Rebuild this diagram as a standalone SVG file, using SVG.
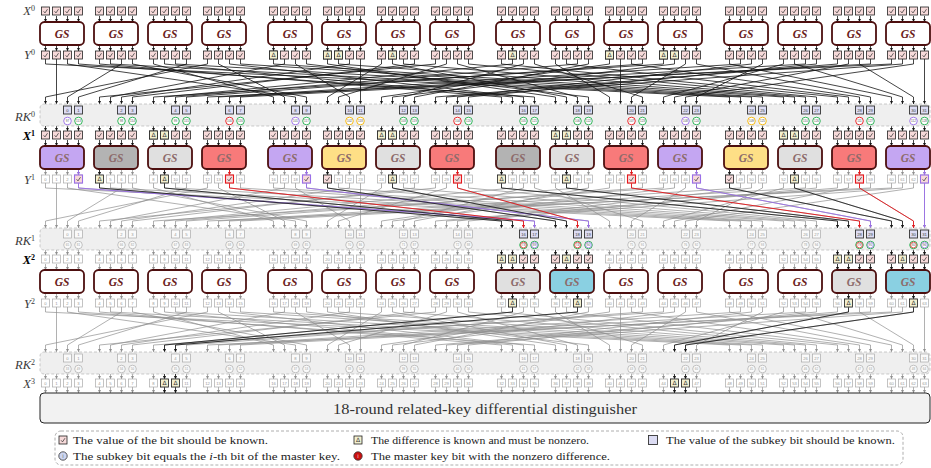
<svg xmlns="http://www.w3.org/2000/svg" xmlns:xlink="http://www.w3.org/1999/xlink" width="931" height="468" viewBox="0 0 931 468">
<style>
text{font-family:"Liberation Serif","DejaVu Serif",serif}
.lbl{font-style:italic;font-size:12.5px;fill:#3a3a3a;text-anchor:end}
.bd{font-weight:bold;fill:#000}
.sup{font-size:8px;font-style:normal}
.gs{font-style:italic;font-weight:bold;font-size:11.5px;text-anchor:middle;fill:#6a1c1c}
.f{fill:#8d6b6b}
.n{font-family:"Liberation Sans",sans-serif;font-size:4.2px;fill:#9a9a9a;text-anchor:middle}
.kn{font-family:"Liberation Sans",sans-serif;font-size:4.2px;fill:#444;text-anchor:middle}
.cn{font-family:"Liberation Sans",sans-serif;font-size:3px;fill:#555;text-anchor:middle}
.cng{font-family:"Liberation Sans",sans-serif;font-size:3px;fill:#9a9a9a;text-anchor:middle}
.dl{font-family:"DejaVu Sans",sans-serif;font-size:6px;text-anchor:middle;fill:#333}
.b{stroke:#4d0f0f;stroke-width:1.8}
.w{fill:#fff}.pu{fill:#c4a6f2}.dg{fill:#b3b3b3}.lg{fill:#e0e0e0}.rd{fill:#f87a7a}.ye{fill:#fedf86}.cy{fill:#8ad0e2}
.pk{fill:none;stroke:#151515;stroke-width:.8;marker-end:url(#mk)}
.pg{fill:none;stroke:#8f8f8f;stroke-width:.7;marker-end:url(#mg)}
.pr{fill:none;stroke:#e8161b;stroke-width:.9;marker-end:url(#mr)}
.pp{fill:none;stroke:#9a6ee8;stroke-width:.9;marker-end:url(#mp)}
.c{fill:#fff;stroke-width:.9}.cP{stroke:#9a6ee8}.cG{stroke:#1fae4b}.cR{stroke:#e8161b}.cO{stroke:#f5b400}
.band{fill:#efefef;stroke:#b5b5b5;stroke-width:.7;stroke-dasharray:3,2}
.leg{font-size:10.5px;fill:#222}
</style>
<defs>
<marker id="mk" viewBox="0 0 4 4" refX="4" refY="2" markerWidth="3.4" markerHeight="3.2" markerUnits="userSpaceOnUse" orient="auto"><path d="M0,0L4,2L0,4z" fill="#151515"/></marker>
<marker id="mg" viewBox="0 0 4 4" refX="4" refY="2" markerWidth="3.4" markerHeight="3.2" markerUnits="userSpaceOnUse" orient="auto"><path d="M0,0L4,2L0,4z" fill="#8f8f8f"/></marker>
<marker id="mr" viewBox="0 0 4 4" refX="4" refY="2" markerWidth="3.4" markerHeight="3.2" markerUnits="userSpaceOnUse" orient="auto"><path d="M0,0L4,2L0,4z" fill="#e8161b"/></marker>
<marker id="mp" viewBox="0 0 4 4" refX="4" refY="2" markerWidth="3.4" markerHeight="3.2" markerUnits="userSpaceOnUse" orient="auto"><path d="M0,0L4,2L0,4z" fill="#9a6ee8"/></marker>
<g id="ck"><rect width="8" height="8" fill="#f7dada" stroke="#222" stroke-width=".8"/><path d="M2.1,4.3L3.5,5.9L6,2.2" fill="none" stroke="#333" stroke-width=".75"/></g>
<g id="ckp"><rect width="8" height="8" fill="#f7dada" stroke="#9a6ee8" stroke-width="1.1"/><path d="M2.1,4.3L3.5,5.9L6,2.2" fill="none" stroke="#333" stroke-width=".75"/></g>
<g id="ckr"><rect width="8" height="8" fill="#f7dada" stroke="#e8161b" stroke-width="1.1"/><path d="M2.1,4.3L3.5,5.9L6,2.2" fill="none" stroke="#333" stroke-width=".75"/></g>
<g id="cd"><rect width="8" height="8" fill="#f3f0d0" stroke="#222" stroke-width=".8"/><text x="4" y="6.4" class="dl">Δ</text></g>
<rect id="cg" width="8" height="8" fill="#fff" stroke="#aaa" stroke-width=".7"/>
<g id="k4"><use href="#ck" x="1.5"/><use href="#ck" x="12.5"/><use href="#ck" x="23.5"/><use href="#ck" x="34.5"/></g>
<g id="g4"><use href="#cg" x="1.5"/><use href="#cg" x="12.5"/><use href="#cg" x="23.5"/><use href="#cg" x="34.5"/></g>
<g id="a4k"><path class="pk" d="M5.5,0V6"/><path class="pk" d="M16.5,0V6"/><path class="pk" d="M27.5,0V6"/><path class="pk" d="M38.5,0V6"/></g>
<g id="a4g"><path class="pg" d="M5.5,0V6"/><path class="pg" d="M16.5,0V6"/><path class="pg" d="M27.5,0V6"/><path class="pg" d="M38.5,0V6"/></g>
<path id="ak" class="pk" d="M0,0V6"/>
<path id="ar" class="pr" d="M0,0V6"/>
<path id="ap" class="pp" d="M0,0V6"/>
<g id="a16k"><use href="#a4k" x="40"/><use href="#a4k" x="94"/><use href="#a4k" x="148"/><use href="#a4k" x="202"/><use href="#a4k" x="268"/><use href="#a4k" x="322"/><use href="#a4k" x="376"/><use href="#a4k" x="430"/><use href="#a4k" x="496"/><use href="#a4k" x="550"/><use href="#a4k" x="604"/><use href="#a4k" x="658"/><use href="#a4k" x="724"/><use href="#a4k" x="778"/><use href="#a4k" x="832"/><use href="#a4k" x="886"/></g>
<g id="a16g"><use href="#a4g" x="40"/><use href="#a4g" x="94"/><use href="#a4g" x="148"/><use href="#a4g" x="202"/><use href="#a4g" x="268"/><use href="#a4g" x="322"/><use href="#a4g" x="376"/><use href="#a4g" x="430"/><use href="#a4g" x="496"/><use href="#a4g" x="550"/><use href="#a4g" x="604"/><use href="#a4g" x="658"/><use href="#a4g" x="724"/><use href="#a4g" x="778"/><use href="#a4g" x="832"/><use href="#a4g" x="886"/></g>
<g id="g16"><use href="#g4" x="40"/><use href="#g4" x="94"/><use href="#g4" x="148"/><use href="#g4" x="202"/><use href="#g4" x="268"/><use href="#g4" x="322"/><use href="#g4" x="376"/><use href="#g4" x="430"/><use href="#g4" x="496"/><use href="#g4" x="550"/><use href="#g4" x="604"/><use href="#g4" x="658"/><use href="#g4" x="724"/><use href="#g4" x="778"/><use href="#g4" x="832"/><use href="#g4" x="886"/></g>
<g id="rkh"><rect x="23.5" width="8" height="8" fill="#dcdcf3" stroke="#333" stroke-width=".9"/><rect x="34.5" width="8" height="8" fill="#dcdcf3" stroke="#333" stroke-width=".9"/></g>
<g id="rkg"><rect x="23.5" width="8" height="8" fill="#fafafa" stroke="#aaa" stroke-width=".7"/><rect x="34.5" width="8" height="8" fill="#fafafa" stroke="#aaa" stroke-width=".7"/><circle cx="27.5" cy="15" r="3.8" fill="#fafafa" stroke="#aaa" stroke-width=".7"/><circle cx="38.5" cy="15" r="3.8" fill="#fafafa" stroke="#aaa" stroke-width=".7"/></g>
<g id="perm">
<path d="M45.5,59V64L729.5,97V104"/><path d="M56.5,59V104"/><path d="M67.5,59V64L295.5,97V104"/><path d="M78.5,59V64L534.5,97V104"/>
<path d="M99.5,59V64L501.5,97V104"/><path d="M110.5,59V64L740.5,97V104"/><path d="M121.5,59V64L67.5,97V104"/><path d="M132.5,59V64L306.5,97V104"/>
<path d="M153.5,59V64L273.5,97V104"/><path d="M164.5,59V64L512.5,97V104"/><path d="M175.5,59V64L751.5,97V104"/><path d="M186.5,59V64L78.5,97V104"/>
<path d="M207.5,59V64L45.5,97V104"/><path d="M218.5,59V64L284.5,97V104"/><path d="M229.5,59V64L523.5,97V104"/><path d="M240.5,59V64L762.5,97V104"/>
<path d="M273.5,59V64L783.5,97V104"/><path d="M284.5,59V64L110.5,97V104"/><path d="M295.5,59V64L349.5,97V104"/><path d="M306.5,59V64L588.5,97V104"/>
<path d="M327.5,59V64L555.5,97V104"/><path d="M338.5,59V64L794.5,97V104"/><path d="M349.5,59V64L121.5,97V104"/><path d="M360.5,59V104"/>
<path d="M381.5,59V64L327.5,97V104"/><path d="M392.5,59V64L566.5,97V104"/><path d="M403.5,59V64L805.5,97V104"/><path d="M414.5,59V64L132.5,97V104"/>
<path d="M435.5,59V64L99.5,97V104"/><path d="M446.5,59V64L338.5,97V104"/><path d="M457.5,59V64L577.5,97V104"/><path d="M468.5,59V64L816.5,97V104"/>
<path d="M501.5,59V64L837.5,97V104"/><path d="M512.5,59V64L164.5,97V104"/><path d="M523.5,59V64L403.5,97V104"/><path d="M534.5,59V64L642.5,97V104"/>
<path d="M555.5,59V64L609.5,97V104"/><path d="M566.5,59V64L848.5,97V104"/><path d="M577.5,59V64L175.5,97V104"/><path d="M588.5,59V64L414.5,97V104"/>
<path d="M609.5,59V64L381.5,97V104"/><path d="M620.5,59V104"/><path d="M631.5,59V64L859.5,97V104"/><path d="M642.5,59V64L186.5,97V104"/>
<path d="M663.5,59V64L153.5,97V104"/><path d="M674.5,59V64L392.5,97V104"/><path d="M685.5,59V64L631.5,97V104"/><path d="M696.5,59V64L870.5,97V104"/>
<path d="M729.5,59V64L891.5,97V104"/><path d="M740.5,59V64L218.5,97V104"/><path d="M751.5,59V64L457.5,97V104"/><path d="M762.5,59V64L696.5,97V104"/>
<path d="M783.5,59V64L663.5,97V104"/><path d="M794.5,59V64L902.5,97V104"/><path d="M805.5,59V64L229.5,97V104"/><path d="M816.5,59V64L468.5,97V104"/>
<path d="M837.5,59V64L435.5,97V104"/><path d="M848.5,59V64L674.5,97V104"/><path d="M859.5,59V64L913.5,97V104"/><path d="M870.5,59V64L240.5,97V104"/>
<path d="M891.5,59V64L207.5,97V104"/><path d="M902.5,59V64L446.5,97V104"/><path d="M913.5,59V64L685.5,97V104"/><path d="M924.5,59V104"/>
</g>
</defs>
<rect width="931" height="468" fill="#fff"/>

<g id="labels">
<text class="lbl" x="35" y="15">X<tspan class="sup" dy="-4.5">0</tspan></text>
<text class="lbl" x="35" y="59">Y<tspan class="sup" dy="-4.5">0</tspan></text>
<text class="lbl" x="35" y="121">RK<tspan class="sup" dy="-4.5">0</tspan></text>
<text class="lbl bd" x="35" y="140">X<tspan class="sup" dy="-4.5">1</tspan></text>
<text class="lbl" x="35" y="184">Y<tspan class="sup" dy="-4.5">1</tspan></text>
<text class="lbl" x="35" y="245">RK<tspan class="sup" dy="-4.5">1</tspan></text>
<text class="lbl bd" x="35" y="264">X<tspan class="sup" dy="-4.5">2</tspan></text>
<text class="lbl" x="35" y="308">Y<tspan class="sup" dy="-4.5">2</tspan></text>
<text class="lbl" x="35" y="369">RK<tspan class="sup" dy="-4.5">2</tspan></text>
<text class="lbl" x="35" y="388">X<tspan class="sup" dy="-4.5">3</tspan></text>
</g>

<g id="connectors">
<use href="#a16k" y="16"/>
<use href="#a16k" y="45"/>
<use href="#perm" class="pk"/>
<use href="#a16k" y="125"/>
<use href="#a16k" y="140"/>
<use href="#a16g" y="169"/>
<use href="#ap" x="78.5" y="169"/><use href="#ak" x="99.5" y="169"/><use href="#ak" x="164.5" y="169"/><use href="#ar" x="229.5" y="169"/>
<use href="#ap" x="306.5" y="169"/><use href="#ak" x="327.5" y="169"/><use href="#ak" x="392.5" y="169"/><use href="#ar" x="457.5" y="169"/>
<use href="#ak" x="501.5" y="169"/><use href="#ak" x="566.5" y="169"/><use href="#ar" x="631.5" y="169"/><use href="#ap" x="696.5" y="169"/>
<use href="#ak" x="729.5" y="169"/><use href="#ak" x="794.5" y="169"/><use href="#ar" x="859.5" y="169"/><use href="#ap" x="924.5" y="169"/>
<use href="#perm" class="pg" y="124"/>
<path class="pp" d="M78.5,183V188L534.5,221V228"/>
<path class="pk" d="M99.5,183V188L501.5,221V228"/>
<path class="pk" d="M164.5,183V188L512.5,221V228"/>
<path class="pr" d="M229.5,183V188L523.5,221V228"/>
<path class="pp" d="M306.5,183V188L588.5,221V228"/>
<path class="pk" d="M327.5,183V188L555.5,221V228"/>
<path class="pk" d="M392.5,183V188L566.5,221V228"/>
<path class="pr" d="M457.5,183V188L577.5,221V228"/>
<path class="pk" d="M501.5,183V188L837.5,221V228"/>
<path class="pk" d="M566.5,183V188L848.5,221V228"/>
<path class="pr" d="M631.5,183V188L859.5,221V228"/>
<path class="pp" d="M696.5,183V188L870.5,221V228"/>
<path class="pk" d="M729.5,183V188L891.5,221V228"/>
<path class="pk" d="M794.5,183V188L902.5,221V228"/>
<path class="pr" d="M859.5,183V188L913.5,221V228"/>
<path class="pp" d="M924.5,183V228"/>
<use href="#a16g" y="249"/>
<use href="#a4k" x="496" y="249"/><use href="#a4k" x="550" y="249"/><use href="#a4k" x="832" y="249"/><use href="#a4k" x="886" y="249"/>
<use href="#a16g" y="264"/>
<use href="#a4k" x="496" y="264"/><use href="#a4k" x="550" y="264"/><use href="#a4k" x="832" y="264"/><use href="#a4k" x="886" y="264"/>
<use href="#a16g" y="293"/>
<use href="#ak" x="512.5" y="293"/><use href="#ak" x="577.5" y="293"/><use href="#ak" x="848.5" y="293"/><use href="#ak" x="913.5" y="293"/>
<use href="#perm" class="pg" y="248"/>
<path class="pk" d="M512.5,307V312L164.5,345V352"/>
<path class="pk" d="M577.5,307V312L175.5,345V352"/>
<path class="pk" d="M848.5,307V312L674.5,345V352"/>
<path class="pk" d="M913.5,307V312L685.5,345V352"/>
<use href="#a16g" y="373"/>
<use href="#ak" x="164.5" y="373"/><use href="#ak" x="175.5" y="373"/><use href="#ak" x="674.5" y="373"/><use href="#ak" x="685.5" y="373"/>
<use href="#a16g" y="387"/>
<use href="#ak" x="164.5" y="387"/><use href="#ak" x="175.5" y="387"/><use href="#ak" x="674.5" y="387"/><use href="#ak" x="685.5" y="387"/>
</g>

<g id="round0">
<g id="r0b0"><use href="#k4" x="40" y="7"/><rect class="b w" x="40" y="22" width="44" height="23" rx="4.5"/><text class="gs" x="62" y="37.5">GS</text><use href="#k4" x="40" y="51"/></g>
<g id="r0b1"><use href="#k4" x="94" y="7"/><rect class="b w" x="94" y="22" width="44" height="23" rx="4.5"/><text class="gs" x="116" y="37.5">GS</text><use href="#k4" x="94" y="51"/></g>
<g id="r0b2"><use href="#k4" x="148" y="7"/><rect class="b w" x="148" y="22" width="44" height="23" rx="4.5"/><text class="gs" x="170" y="37.5">GS</text><use href="#k4" x="148" y="51"/></g>
<g id="r0b3"><use href="#k4" x="202" y="7"/><rect class="b w" x="202" y="22" width="44" height="23" rx="4.5"/><text class="gs" x="224" y="37.5">GS</text><use href="#k4" x="202" y="51"/></g>
<g id="r0b4"><use href="#k4" x="268" y="7"/><rect class="b w" x="268" y="22" width="44" height="23" rx="4.5"/><text class="gs" x="290" y="37.5">GS</text><use href="#k4" x="268" y="51"/><use href="#cd" x="269.5" y="51"/></g>
<g id="r0b5"><use href="#k4" x="322" y="7"/><rect class="b w" x="322" y="22" width="44" height="23" rx="4.5"/><text class="gs" x="344" y="37.5">GS</text><use href="#k4" x="322" y="51"/><use href="#cd" x="323.5" y="51"/><use href="#cd" x="334.5" y="51"/></g>
<g id="r0b6"><use href="#k4" x="376" y="7"/><rect class="b w" x="376" y="22" width="44" height="23" rx="4.5"/><text class="gs" x="398" y="37.5">GS</text><use href="#k4" x="376" y="51"/><use href="#cd" x="388.5" y="51"/></g>
<g id="r0b7"><use href="#k4" x="430" y="7"/><rect class="b w" x="430" y="22" width="44" height="23" rx="4.5"/><text class="gs" x="452" y="37.5">GS</text><use href="#k4" x="430" y="51"/></g>
<g id="r0b8"><use href="#k4" x="496" y="7"/><rect class="b w" x="496" y="22" width="44" height="23" rx="4.5"/><text class="gs" x="518" y="37.5">GS</text><use href="#k4" x="496" y="51"/><use href="#cd" x="508.5" y="51"/></g>
<g id="r0b9"><use href="#k4" x="550" y="7"/><rect class="b w" x="550" y="22" width="44" height="23" rx="4.5"/><text class="gs" x="572" y="37.5">GS</text><use href="#k4" x="550" y="51"/></g>
<g id="r0b10"><use href="#k4" x="604" y="7"/><rect class="b w" x="604" y="22" width="44" height="23" rx="4.5"/><text class="gs" x="626" y="37.5">GS</text><use href="#k4" x="604" y="51"/><use href="#cd" x="605.5" y="51"/></g>
<g id="r0b11"><use href="#k4" x="658" y="7"/><rect class="b w" x="658" y="22" width="44" height="23" rx="4.5"/><text class="gs" x="680" y="37.5">GS</text><use href="#k4" x="658" y="51"/><use href="#cd" x="659.5" y="51"/><use href="#cd" x="670.5" y="51"/></g>
<g id="r0b12"><use href="#k4" x="724" y="7"/><rect class="b w" x="724" y="22" width="44" height="23" rx="4.5"/><text class="gs" x="746" y="37.5">GS</text><use href="#k4" x="724" y="51"/></g>
<g id="r0b13"><use href="#k4" x="778" y="7"/><rect class="b w" x="778" y="22" width="44" height="23" rx="4.5"/><text class="gs" x="800" y="37.5">GS</text><use href="#k4" x="778" y="51"/></g>
<g id="r0b14"><use href="#k4" x="832" y="7"/><rect class="b w" x="832" y="22" width="44" height="23" rx="4.5"/><text class="gs" x="854" y="37.5">GS</text><use href="#k4" x="832" y="51"/></g>
<g id="r0b15"><use href="#k4" x="886" y="7"/><rect class="b w" x="886" y="22" width="44" height="23" rx="4.5"/><text class="gs" x="908" y="37.5">GS</text><use href="#k4" x="886" y="51"/></g>
</g>

<g id="rk0">
<rect class="band" x="40" y="104" width="890" height="22" rx="4"/>
<use href="#rkh" x="40" y="106"/><use href="#rkh" x="94" y="106"/><use href="#rkh" x="148" y="106"/><use href="#rkh" x="202" y="106"/><use href="#rkh" x="268" y="106"/><use href="#rkh" x="322" y="106"/><use href="#rkh" x="376" y="106"/><use href="#rkh" x="430" y="106"/><use href="#rkh" x="496" y="106"/><use href="#rkh" x="550" y="106"/><use href="#rkh" x="604" y="106"/><use href="#rkh" x="658" y="106"/><use href="#rkh" x="724" y="106"/><use href="#rkh" x="778" y="106"/><use href="#rkh" x="832" y="106"/><use href="#rkh" x="886" y="106"/>
<circle class="c cP" cx="67.5" cy="121" r="3.8"/><circle class="c cG" cx="78.5" cy="121" r="3.8"/>
<circle class="c cG" cx="121.5" cy="121" r="3.8"/><circle class="c cG" cx="132.5" cy="121" r="3.8"/>
<circle class="c cG" cx="175.5" cy="121" r="3.8"/><circle class="c cG" cx="186.5" cy="121" r="3.8"/>
<circle class="c cR" cx="229.5" cy="121" r="3.8"/><circle class="c cG" cx="240.5" cy="121" r="3.8"/>
<circle class="c cP" cx="295.5" cy="121" r="3.8"/><circle class="c cG" cx="306.5" cy="121" r="3.8"/>
<circle class="c cO" cx="349.5" cy="121" r="3.8"/><circle class="c cO" cx="360.5" cy="121" r="3.8"/>
<circle class="c cG" cx="403.5" cy="121" r="3.8"/><circle class="c cG" cx="414.5" cy="121" r="3.8"/>
<circle class="c cR" cx="457.5" cy="121" r="3.8"/><circle class="c cG" cx="468.5" cy="121" r="3.8"/>
<circle class="c cG" cx="523.5" cy="121" r="3.8"/><circle class="c cG" cx="534.5" cy="121" r="3.8"/>
<circle class="c cG" cx="577.5" cy="121" r="3.8"/><circle class="c cG" cx="588.5" cy="121" r="3.8"/>
<circle class="c cR" cx="631.5" cy="121" r="3.8"/><circle class="c cG" cx="642.5" cy="121" r="3.8"/>
<circle class="c cP" cx="685.5" cy="121" r="3.8"/><circle class="c cG" cx="696.5" cy="121" r="3.8"/>
<circle class="c cO" cx="751.5" cy="121" r="3.8"/><circle class="c cO" cx="762.5" cy="121" r="3.8"/>
<circle class="c cG" cx="805.5" cy="121" r="3.8"/><circle class="c cG" cx="816.5" cy="121" r="3.8"/>
<circle class="c cR" cx="859.5" cy="121" r="3.8"/><circle class="c cG" cx="870.5" cy="121" r="3.8"/>
<circle class="c cP" cx="913.5" cy="121" r="3.8"/><circle class="c cG" cx="924.5" cy="121" r="3.8"/>
<text class="kn" y="111.6"><tspan x="67.5">0</tspan><tspan x="78.5">1</tspan><tspan x="121.5">2</tspan><tspan x="132.5">3</tspan><tspan x="175.5">4</tspan><tspan x="186.5">5</tspan><tspan x="229.5">6</tspan><tspan x="240.5">7</tspan><tspan x="295.5">8</tspan><tspan x="306.5">9</tspan><tspan x="349.5">10</tspan><tspan x="360.5">11</tspan><tspan x="403.5">12</tspan><tspan x="414.5">13</tspan><tspan x="457.5">14</tspan><tspan x="468.5">15</tspan><tspan x="523.5">16</tspan><tspan x="534.5">17</tspan><tspan x="577.5">18</tspan><tspan x="588.5">19</tspan><tspan x="631.5">20</tspan><tspan x="642.5">21</tspan><tspan x="685.5">22</tspan><tspan x="696.5">23</tspan><tspan x="751.5">24</tspan><tspan x="762.5">25</tspan><tspan x="805.5">26</tspan><tspan x="816.5">27</tspan><tspan x="859.5">28</tspan><tspan x="870.5">29</tspan><tspan x="913.5">30</tspan><tspan x="924.5">31</tspan></text>
<text class="cn" y="122.1"><tspan x="67.5">97</tspan><tspan x="78.5">113</tspan><tspan x="121.5">98</tspan><tspan x="132.5">114</tspan><tspan x="175.5">99</tspan><tspan x="186.5">115</tspan><tspan x="229.5">100</tspan><tspan x="240.5">116</tspan><tspan x="295.5">101</tspan><tspan x="306.5">117</tspan><tspan x="349.5">102</tspan><tspan x="360.5">118</tspan><tspan x="403.5">103</tspan><tspan x="414.5">119</tspan><tspan x="457.5">104</tspan><tspan x="468.5">120</tspan><tspan x="523.5">105</tspan><tspan x="534.5">121</tspan><tspan x="577.5">106</tspan><tspan x="588.5">122</tspan><tspan x="631.5">107</tspan><tspan x="642.5">123</tspan><tspan x="685.5">108</tspan><tspan x="696.5">124</tspan><tspan x="751.5">109</tspan><tspan x="762.5">125</tspan><tspan x="805.5">110</tspan><tspan x="816.5">126</tspan><tspan x="859.5">111</tspan><tspan x="870.5">127</tspan><tspan x="913.5">112</tspan><tspan x="924.5">128</tspan></text>
</g>

<g id="round1">
<g id="r1b0"><use href="#k4" x="40" y="131"/><rect class="b pu" x="40" y="146" width="44" height="23" rx="4.5"/><text class="gs f" x="62" y="161.5">GS</text><use href="#g4" x="40" y="175"/><use href="#ckp" x="74.5" y="175"/></g>
<g id="r1b1"><use href="#k4" x="94" y="131"/><rect class="b dg" x="94" y="146" width="44" height="23" rx="4.5"/><text class="gs f" x="116" y="161.5">GS</text><use href="#g4" x="94" y="175"/><use href="#cd" x="95.5" y="175"/></g>
<g id="r1b2"><use href="#k4" x="148" y="131"/><use href="#cd" x="149.5" y="131"/><use href="#cd" x="160.5" y="131"/><rect class="b lg" x="148" y="146" width="44" height="23" rx="4.5"/><text class="gs f" x="170" y="161.5">GS</text><use href="#g4" x="148" y="175"/><use href="#cd" x="160.5" y="175"/></g>
<g id="r1b3"><use href="#k4" x="202" y="131"/><rect class="b rd" x="202" y="146" width="44" height="23" rx="4.5"/><text class="gs f" x="224" y="161.5">GS</text><use href="#g4" x="202" y="175"/><use href="#ckr" x="225.5" y="175"/></g>
<g id="r1b4"><use href="#k4" x="268" y="131"/><rect class="b pu" x="268" y="146" width="44" height="23" rx="4.5"/><text class="gs f" x="290" y="161.5">GS</text><use href="#g4" x="268" y="175"/><use href="#ckp" x="302.5" y="175"/></g>
<g id="r1b5"><use href="#k4" x="322" y="131"/><rect class="b ye" x="322" y="146" width="44" height="23" rx="4.5"/><text class="gs f" x="344" y="161.5">GS</text><use href="#g4" x="322" y="175"/><use href="#ck" x="323.5" y="175"/></g>
<g id="r1b6"><use href="#k4" x="376" y="131"/><use href="#cd" x="377.5" y="131"/><use href="#cd" x="388.5" y="131"/><rect class="b lg" x="376" y="146" width="44" height="23" rx="4.5"/><text class="gs f" x="398" y="161.5">GS</text><use href="#g4" x="376" y="175"/><use href="#cd" x="388.5" y="175"/></g>
<g id="r1b7"><use href="#k4" x="430" y="131"/><rect class="b rd" x="430" y="146" width="44" height="23" rx="4.5"/><text class="gs f" x="452" y="161.5">GS</text><use href="#g4" x="430" y="175"/><use href="#ckr" x="453.5" y="175"/></g>
<g id="r1b8"><use href="#k4" x="496" y="131"/><rect class="b dg" x="496" y="146" width="44" height="23" rx="4.5"/><text class="gs f" x="518" y="161.5">GS</text><use href="#g4" x="496" y="175"/><use href="#cd" x="497.5" y="175"/></g>
<g id="r1b9"><use href="#k4" x="550" y="131"/><use href="#cd" x="551.5" y="131"/><use href="#cd" x="562.5" y="131"/><rect class="b lg" x="550" y="146" width="44" height="23" rx="4.5"/><text class="gs f" x="572" y="161.5">GS</text><use href="#g4" x="550" y="175"/><use href="#cd" x="562.5" y="175"/></g>
<g id="r1b10"><use href="#k4" x="604" y="131"/><rect class="b rd" x="604" y="146" width="44" height="23" rx="4.5"/><text class="gs f" x="626" y="161.5">GS</text><use href="#g4" x="604" y="175"/><use href="#ckr" x="627.5" y="175"/></g>
<g id="r1b11"><use href="#k4" x="658" y="131"/><rect class="b pu" x="658" y="146" width="44" height="23" rx="4.5"/><text class="gs f" x="680" y="161.5">GS</text><use href="#g4" x="658" y="175"/><use href="#ckp" x="692.5" y="175"/></g>
<g id="r1b12"><use href="#k4" x="724" y="131"/><rect class="b ye" x="724" y="146" width="44" height="23" rx="4.5"/><text class="gs f" x="746" y="161.5">GS</text><use href="#g4" x="724" y="175"/><use href="#ck" x="725.5" y="175"/></g>
<g id="r1b13"><use href="#k4" x="778" y="131"/><use href="#cd" x="779.5" y="131"/><use href="#cd" x="790.5" y="131"/><rect class="b lg" x="778" y="146" width="44" height="23" rx="4.5"/><text class="gs f" x="800" y="161.5">GS</text><use href="#g4" x="778" y="175"/><use href="#cd" x="790.5" y="175"/></g>
<g id="r1b14"><use href="#k4" x="832" y="131"/><rect class="b rd" x="832" y="146" width="44" height="23" rx="4.5"/><text class="gs f" x="854" y="161.5">GS</text><use href="#g4" x="832" y="175"/><use href="#ckr" x="855.5" y="175"/></g>
<g id="r1b15"><use href="#k4" x="886" y="131"/><rect class="b pu" x="886" y="146" width="44" height="23" rx="4.5"/><text class="gs f" x="908" y="161.5">GS</text><use href="#g4" x="886" y="175"/><use href="#ckp" x="920.5" y="175"/></g>
<text class="n" y="180.6"><tspan x="45.5">0</tspan><tspan x="56.5">1</tspan><tspan x="67.5">2</tspan><tspan x="110.5">5</tspan><tspan x="121.5">6</tspan><tspan x="132.5">7</tspan><tspan x="153.5">8</tspan><tspan x="175.5">10</tspan><tspan x="186.5">11</tspan><tspan x="207.5">12</tspan><tspan x="218.5">13</tspan><tspan x="240.5">15</tspan><tspan x="273.5">16</tspan><tspan x="284.5">17</tspan><tspan x="295.5">18</tspan><tspan x="338.5">21</tspan><tspan x="349.5">22</tspan><tspan x="360.5">23</tspan><tspan x="381.5">24</tspan><tspan x="403.5">26</tspan><tspan x="414.5">27</tspan><tspan x="435.5">28</tspan><tspan x="446.5">29</tspan><tspan x="468.5">31</tspan><tspan x="512.5">33</tspan><tspan x="523.5">34</tspan><tspan x="534.5">35</tspan><tspan x="555.5">36</tspan><tspan x="577.5">38</tspan><tspan x="588.5">39</tspan><tspan x="609.5">40</tspan><tspan x="620.5">41</tspan><tspan x="642.5">43</tspan><tspan x="663.5">44</tspan><tspan x="674.5">45</tspan><tspan x="685.5">46</tspan><tspan x="740.5">49</tspan><tspan x="751.5">50</tspan><tspan x="762.5">51</tspan><tspan x="783.5">52</tspan><tspan x="805.5">54</tspan><tspan x="816.5">55</tspan><tspan x="837.5">56</tspan><tspan x="848.5">57</tspan><tspan x="870.5">59</tspan><tspan x="891.5">60</tspan><tspan x="902.5">61</tspan><tspan x="913.5">62</tspan></text>
</g>

<g id="rk1">
<rect class="band" x="40" y="228" width="890" height="22" rx="4"/>
<use href="#rkg" x="40" y="230"/><use href="#rkg" x="94" y="230"/><use href="#rkg" x="148" y="230"/><use href="#rkg" x="202" y="230"/><use href="#rkg" x="268" y="230"/><use href="#rkg" x="322" y="230"/><use href="#rkg" x="376" y="230"/><use href="#rkg" x="430" y="230"/><use href="#rkg" x="604" y="230"/><use href="#rkg" x="658" y="230"/><use href="#rkg" x="724" y="230"/><use href="#rkg" x="778" y="230"/>
<use href="#rkh" x="496" y="230"/><use href="#rkh" x="550" y="230"/><use href="#rkh" x="832" y="230"/><use href="#rkh" x="886" y="230"/>
<circle class="c cG" cx="523.5" cy="245" r="3.8"/><circle fill="none" stroke="#e8161b" stroke-width=".7" cx="523.5" cy="245" r="2.9"/>
<circle class="c cG" cx="534.5" cy="245" r="3.8"/><circle fill="none" stroke="#9a6ee8" stroke-width=".7" cx="534.5" cy="245" r="2.9"/>
<circle class="c cG" cx="577.5" cy="245" r="3.8"/><circle fill="none" stroke="#e8161b" stroke-width=".7" cx="577.5" cy="245" r="2.9"/>
<circle class="c cG" cx="588.5" cy="245" r="3.8"/><circle fill="none" stroke="#9a6ee8" stroke-width=".7" cx="588.5" cy="245" r="2.9"/>
<circle class="c cG" cx="859.5" cy="245" r="3.8"/><circle fill="none" stroke="#e8161b" stroke-width=".7" cx="859.5" cy="245" r="2.9"/>
<circle class="c cG" cx="870.5" cy="245" r="3.8"/><circle fill="none" stroke="#9a6ee8" stroke-width=".7" cx="870.5" cy="245" r="2.9"/>
<circle class="c cG" cx="913.5" cy="245" r="3.8"/><circle fill="none" stroke="#e8161b" stroke-width=".7" cx="913.5" cy="245" r="2.9"/>
<circle class="c cG" cx="924.5" cy="245" r="3.8"/><circle fill="none" stroke="#9a6ee8" stroke-width=".7" cx="924.5" cy="245" r="2.9"/>
<text class="n" y="235.6"><tspan x="67.5">0</tspan><tspan x="78.5">1</tspan><tspan x="121.5">2</tspan><tspan x="132.5">3</tspan><tspan x="175.5">4</tspan><tspan x="186.5">5</tspan><tspan x="229.5">6</tspan><tspan x="240.5">7</tspan><tspan x="295.5">8</tspan><tspan x="306.5">9</tspan><tspan x="349.5">10</tspan><tspan x="360.5">11</tspan><tspan x="403.5">12</tspan><tspan x="414.5">13</tspan><tspan x="457.5">14</tspan><tspan x="468.5">15</tspan><tspan x="631.5">20</tspan><tspan x="642.5">21</tspan><tspan x="685.5">22</tspan><tspan x="696.5">23</tspan><tspan x="751.5">24</tspan><tspan x="762.5">25</tspan><tspan x="805.5">26</tspan><tspan x="816.5">27</tspan></text>
<text class="kn" y="235.6"><tspan x="523.5">16</tspan><tspan x="534.5">17</tspan><tspan x="577.5">18</tspan><tspan x="588.5">19</tspan><tspan x="859.5">28</tspan><tspan x="870.5">29</tspan><tspan x="913.5">30</tspan><tspan x="924.5">31</tspan></text>
<text class="cng" y="246.1"><tspan x="67.5">65</tspan><tspan x="78.5">81</tspan><tspan x="121.5">66</tspan><tspan x="132.5">82</tspan><tspan x="175.5">67</tspan><tspan x="186.5">83</tspan><tspan x="229.5">68</tspan><tspan x="240.5">84</tspan><tspan x="295.5">69</tspan><tspan x="306.5">85</tspan><tspan x="349.5">70</tspan><tspan x="360.5">86</tspan><tspan x="403.5">71</tspan><tspan x="414.5">87</tspan><tspan x="457.5">72</tspan><tspan x="468.5">88</tspan><tspan x="631.5">75</tspan><tspan x="642.5">91</tspan><tspan x="685.5">76</tspan><tspan x="696.5">92</tspan><tspan x="751.5">77</tspan><tspan x="762.5">93</tspan><tspan x="805.5">78</tspan><tspan x="816.5">94</tspan></text>
<text class="cn" y="246.1"><tspan x="523.5">73</tspan><tspan x="534.5">89</tspan><tspan x="577.5">74</tspan><tspan x="588.5">90</tspan><tspan x="859.5">79</tspan><tspan x="870.5">95</tspan><tspan x="913.5">80</tspan><tspan x="924.5">96</tspan></text>
</g>

<g id="round2">
<g id="r2b0"><use href="#g4" x="40" y="255"/><rect class="b w" x="40" y="270" width="44" height="23" rx="4.5"/><text class="gs" x="62" y="285.5">GS</text><use href="#g4" x="40" y="299"/></g>
<g id="r2b1"><use href="#g4" x="94" y="255"/><rect class="b w" x="94" y="270" width="44" height="23" rx="4.5"/><text class="gs" x="116" y="285.5">GS</text><use href="#g4" x="94" y="299"/></g>
<g id="r2b2"><use href="#g4" x="148" y="255"/><rect class="b w" x="148" y="270" width="44" height="23" rx="4.5"/><text class="gs" x="170" y="285.5">GS</text><use href="#g4" x="148" y="299"/></g>
<g id="r2b3"><use href="#g4" x="202" y="255"/><rect class="b w" x="202" y="270" width="44" height="23" rx="4.5"/><text class="gs" x="224" y="285.5">GS</text><use href="#g4" x="202" y="299"/></g>
<g id="r2b4"><use href="#g4" x="268" y="255"/><rect class="b w" x="268" y="270" width="44" height="23" rx="4.5"/><text class="gs" x="290" y="285.5">GS</text><use href="#g4" x="268" y="299"/></g>
<g id="r2b5"><use href="#g4" x="322" y="255"/><rect class="b w" x="322" y="270" width="44" height="23" rx="4.5"/><text class="gs" x="344" y="285.5">GS</text><use href="#g4" x="322" y="299"/></g>
<g id="r2b6"><use href="#g4" x="376" y="255"/><rect class="b w" x="376" y="270" width="44" height="23" rx="4.5"/><text class="gs" x="398" y="285.5">GS</text><use href="#g4" x="376" y="299"/></g>
<g id="r2b7"><use href="#g4" x="430" y="255"/><rect class="b w" x="430" y="270" width="44" height="23" rx="4.5"/><text class="gs" x="452" y="285.5">GS</text><use href="#g4" x="430" y="299"/></g>
<g id="r2b8"><use href="#cd" x="497.5" y="255"/><use href="#cd" x="508.5" y="255"/><use href="#ck" x="519.5" y="255"/><use href="#ck" x="530.5" y="255"/><rect class="b lg" x="496" y="270" width="44" height="23" rx="4.5"/><text class="gs f" x="518" y="285.5">GS</text><use href="#g4" x="496" y="299"/><use href="#cd" x="508.5" y="299"/></g>
<g id="r2b9"><use href="#ck" x="551.5" y="255"/><use href="#cd" x="562.5" y="255"/><use href="#ck" x="573.5" y="255"/><use href="#ck" x="584.5" y="255"/><rect class="b cy" x="550" y="270" width="44" height="23" rx="4.5"/><text class="gs f" x="572" y="285.5">GS</text><use href="#g4" x="550" y="299"/><use href="#cd" x="573.5" y="299"/></g>
<g id="r2b10"><use href="#g4" x="604" y="255"/><rect class="b w" x="604" y="270" width="44" height="23" rx="4.5"/><text class="gs" x="626" y="285.5">GS</text><use href="#g4" x="604" y="299"/></g>
<g id="r2b11"><use href="#g4" x="658" y="255"/><rect class="b w" x="658" y="270" width="44" height="23" rx="4.5"/><text class="gs" x="680" y="285.5">GS</text><use href="#g4" x="658" y="299"/></g>
<g id="r2b12"><use href="#g4" x="724" y="255"/><rect class="b w" x="724" y="270" width="44" height="23" rx="4.5"/><text class="gs" x="746" y="285.5">GS</text><use href="#g4" x="724" y="299"/></g>
<g id="r2b13"><use href="#g4" x="778" y="255"/><rect class="b w" x="778" y="270" width="44" height="23" rx="4.5"/><text class="gs" x="800" y="285.5">GS</text><use href="#g4" x="778" y="299"/></g>
<g id="r2b14"><use href="#cd" x="833.5" y="255"/><use href="#cd" x="844.5" y="255"/><use href="#ck" x="855.5" y="255"/><use href="#ck" x="866.5" y="255"/><rect class="b lg" x="832" y="270" width="44" height="23" rx="4.5"/><text class="gs f" x="854" y="285.5">GS</text><use href="#g4" x="832" y="299"/><use href="#cd" x="844.5" y="299"/></g>
<g id="r2b15"><use href="#ck" x="887.5" y="255"/><use href="#cd" x="898.5" y="255"/><use href="#ck" x="909.5" y="255"/><use href="#ck" x="920.5" y="255"/><rect class="b cy" x="886" y="270" width="44" height="23" rx="4.5"/><text class="gs f" x="908" y="285.5">GS</text><use href="#g4" x="886" y="299"/><use href="#cd" x="909.5" y="299"/></g>
<text class="n" y="260.6"><tspan x="45.5">0</tspan><tspan x="56.5">1</tspan><tspan x="67.5">2</tspan><tspan x="78.5">3</tspan><tspan x="99.5">4</tspan><tspan x="110.5">5</tspan><tspan x="121.5">6</tspan><tspan x="132.5">7</tspan><tspan x="153.5">8</tspan><tspan x="164.5">9</tspan><tspan x="175.5">10</tspan><tspan x="186.5">11</tspan><tspan x="207.5">12</tspan><tspan x="218.5">13</tspan><tspan x="229.5">14</tspan><tspan x="240.5">15</tspan><tspan x="273.5">16</tspan><tspan x="284.5">17</tspan><tspan x="295.5">18</tspan><tspan x="306.5">19</tspan><tspan x="327.5">20</tspan><tspan x="338.5">21</tspan><tspan x="349.5">22</tspan><tspan x="360.5">23</tspan><tspan x="381.5">24</tspan><tspan x="392.5">25</tspan><tspan x="403.5">26</tspan><tspan x="414.5">27</tspan><tspan x="435.5">28</tspan><tspan x="446.5">29</tspan><tspan x="457.5">30</tspan><tspan x="468.5">31</tspan><tspan x="609.5">40</tspan><tspan x="620.5">41</tspan><tspan x="631.5">42</tspan><tspan x="642.5">43</tspan><tspan x="663.5">44</tspan><tspan x="674.5">45</tspan><tspan x="685.5">46</tspan><tspan x="696.5">47</tspan><tspan x="729.5">48</tspan><tspan x="740.5">49</tspan><tspan x="751.5">50</tspan><tspan x="762.5">51</tspan><tspan x="783.5">52</tspan><tspan x="794.5">53</tspan><tspan x="805.5">54</tspan><tspan x="816.5">55</tspan></text>
<text class="n" y="304.6"><tspan x="45.5">0</tspan><tspan x="56.5">1</tspan><tspan x="67.5">2</tspan><tspan x="78.5">3</tspan><tspan x="99.5">4</tspan><tspan x="110.5">5</tspan><tspan x="121.5">6</tspan><tspan x="132.5">7</tspan><tspan x="153.5">8</tspan><tspan x="164.5">9</tspan><tspan x="175.5">10</tspan><tspan x="186.5">11</tspan><tspan x="207.5">12</tspan><tspan x="218.5">13</tspan><tspan x="229.5">14</tspan><tspan x="240.5">15</tspan><tspan x="273.5">16</tspan><tspan x="284.5">17</tspan><tspan x="295.5">18</tspan><tspan x="306.5">19</tspan><tspan x="327.5">20</tspan><tspan x="338.5">21</tspan><tspan x="349.5">22</tspan><tspan x="360.5">23</tspan><tspan x="381.5">24</tspan><tspan x="392.5">25</tspan><tspan x="403.5">26</tspan><tspan x="414.5">27</tspan><tspan x="435.5">28</tspan><tspan x="446.5">29</tspan><tspan x="457.5">30</tspan><tspan x="468.5">31</tspan><tspan x="501.5">32</tspan><tspan x="523.5">34</tspan><tspan x="534.5">35</tspan><tspan x="555.5">36</tspan><tspan x="566.5">37</tspan><tspan x="588.5">39</tspan><tspan x="609.5">40</tspan><tspan x="620.5">41</tspan><tspan x="631.5">42</tspan><tspan x="642.5">43</tspan><tspan x="663.5">44</tspan><tspan x="674.5">45</tspan><tspan x="685.5">46</tspan><tspan x="696.5">47</tspan><tspan x="729.5">48</tspan><tspan x="740.5">49</tspan><tspan x="751.5">50</tspan><tspan x="762.5">51</tspan><tspan x="783.5">52</tspan><tspan x="794.5">53</tspan><tspan x="805.5">54</tspan><tspan x="816.5">55</tspan><tspan x="837.5">56</tspan><tspan x="859.5">58</tspan><tspan x="870.5">59</tspan><tspan x="891.5">60</tspan><tspan x="902.5">61</tspan><tspan x="924.5">63</tspan></text>
</g>

<g id="rk2">
<rect class="band" x="40" y="352" width="890" height="22" rx="4"/>
<use href="#rkg" x="40" y="354"/><use href="#rkg" x="94" y="354"/><use href="#rkg" x="148" y="354"/><use href="#rkg" x="202" y="354"/><use href="#rkg" x="268" y="354"/><use href="#rkg" x="322" y="354"/><use href="#rkg" x="376" y="354"/><use href="#rkg" x="430" y="354"/><use href="#rkg" x="496" y="354"/><use href="#rkg" x="550" y="354"/><use href="#rkg" x="604" y="354"/><use href="#rkg" x="658" y="354"/><use href="#rkg" x="724" y="354"/><use href="#rkg" x="778" y="354"/><use href="#rkg" x="832" y="354"/><use href="#rkg" x="886" y="354"/>
<text class="n" y="359.6"><tspan x="67.5">0</tspan><tspan x="78.5">1</tspan><tspan x="121.5">2</tspan><tspan x="132.5">3</tspan><tspan x="175.5">4</tspan><tspan x="186.5">5</tspan><tspan x="229.5">6</tspan><tspan x="240.5">7</tspan><tspan x="295.5">8</tspan><tspan x="306.5">9</tspan><tspan x="349.5">10</tspan><tspan x="360.5">11</tspan><tspan x="403.5">12</tspan><tspan x="414.5">13</tspan><tspan x="457.5">14</tspan><tspan x="468.5">15</tspan><tspan x="523.5">16</tspan><tspan x="534.5">17</tspan><tspan x="577.5">18</tspan><tspan x="588.5">19</tspan><tspan x="631.5">20</tspan><tspan x="642.5">21</tspan><tspan x="685.5">22</tspan><tspan x="696.5">23</tspan><tspan x="751.5">24</tspan><tspan x="762.5">25</tspan><tspan x="805.5">26</tspan><tspan x="816.5">27</tspan><tspan x="859.5">28</tspan><tspan x="870.5">29</tspan><tspan x="913.5">30</tspan><tspan x="924.5">31</tspan></text>
<text class="cng" y="370.1"><tspan x="67.5">33</tspan><tspan x="78.5">49</tspan><tspan x="121.5">34</tspan><tspan x="132.5">50</tspan><tspan x="175.5">35</tspan><tspan x="186.5">51</tspan><tspan x="229.5">36</tspan><tspan x="240.5">52</tspan><tspan x="295.5">37</tspan><tspan x="306.5">53</tspan><tspan x="349.5">38</tspan><tspan x="360.5">54</tspan><tspan x="403.5">39</tspan><tspan x="414.5">55</tspan><tspan x="457.5">40</tspan><tspan x="468.5">56</tspan><tspan x="523.5">41</tspan><tspan x="534.5">57</tspan><tspan x="577.5">42</tspan><tspan x="588.5">58</tspan><tspan x="631.5">43</tspan><tspan x="642.5">59</tspan><tspan x="685.5">44</tspan><tspan x="696.5">60</tspan><tspan x="751.5">45</tspan><tspan x="762.5">61</tspan><tspan x="805.5">46</tspan><tspan x="816.5">62</tspan><tspan x="859.5">47</tspan><tspan x="870.5">63</tspan><tspan x="913.5">48</tspan><tspan x="924.5">64</tspan></text>
</g>

<g id="x3">
<use href="#g16" y="379"/>
<use href="#cd" x="160.5" y="379"/><use href="#cd" x="171.5" y="379"/><use href="#cd" x="670.5" y="379"/><use href="#cd" x="681.5" y="379"/>
<text class="n" y="384.6"><tspan x="45.5">0</tspan><tspan x="56.5">1</tspan><tspan x="67.5">2</tspan><tspan x="78.5">3</tspan><tspan x="99.5">4</tspan><tspan x="110.5">5</tspan><tspan x="121.5">6</tspan><tspan x="132.5">7</tspan><tspan x="153.5">8</tspan><tspan x="186.5">11</tspan><tspan x="207.5">12</tspan><tspan x="218.5">13</tspan><tspan x="229.5">14</tspan><tspan x="240.5">15</tspan><tspan x="273.5">16</tspan><tspan x="284.5">17</tspan><tspan x="295.5">18</tspan><tspan x="306.5">19</tspan><tspan x="327.5">20</tspan><tspan x="338.5">21</tspan><tspan x="349.5">22</tspan><tspan x="360.5">23</tspan><tspan x="381.5">24</tspan><tspan x="392.5">25</tspan><tspan x="403.5">26</tspan><tspan x="414.5">27</tspan><tspan x="435.5">28</tspan><tspan x="446.5">29</tspan><tspan x="457.5">30</tspan><tspan x="468.5">31</tspan><tspan x="501.5">32</tspan><tspan x="512.5">33</tspan><tspan x="523.5">34</tspan><tspan x="534.5">35</tspan><tspan x="555.5">36</tspan><tspan x="566.5">37</tspan><tspan x="577.5">38</tspan><tspan x="588.5">39</tspan><tspan x="609.5">40</tspan><tspan x="620.5">41</tspan><tspan x="631.5">42</tspan><tspan x="642.5">43</tspan><tspan x="663.5">44</tspan><tspan x="696.5">47</tspan><tspan x="729.5">48</tspan><tspan x="740.5">49</tspan><tspan x="751.5">50</tspan><tspan x="762.5">51</tspan><tspan x="783.5">52</tspan><tspan x="794.5">53</tspan><tspan x="805.5">54</tspan><tspan x="816.5">55</tspan><tspan x="837.5">56</tspan><tspan x="848.5">57</tspan><tspan x="859.5">58</tspan><tspan x="870.5">59</tspan><tspan x="891.5">60</tspan><tspan x="902.5">61</tspan><tspan x="913.5">62</tspan><tspan x="924.5">63</tspan></text>
</g>

<g id="distinguisher">
<rect x="40" y="393" width="890" height="30" rx="4" fill="#f2f2f2" stroke="#222" stroke-width="1"/>
<text x="485" y="413.5" text-anchor="middle" font-size="14.5" fill="#333" textLength="304" lengthAdjust="spacingAndGlyphs">18-round related-key differential distinguisher</text>
</g>

<g id="legend">
<rect x="55" y="431" width="848" height="34" rx="6" fill="#fff" stroke="#999" stroke-width=".8" stroke-dasharray="3,2"/>
<use href="#ck" x="59" y="436"/>
<text class="leg" x="73" y="443.5" textLength="195" lengthAdjust="spacingAndGlyphs">The value of the bit should be known.</text>
<use href="#cd" x="354" y="436"/>
<text class="leg" x="371" y="443.5" textLength="218" lengthAdjust="spacingAndGlyphs">The difference is known and must be nonzero.</text>
<rect x="648.5" y="435.5" width="9" height="9" fill="#dcdcf3" stroke="#333" stroke-width=".9"/>
<text class="leg" x="666" y="443.5" textLength="229" lengthAdjust="spacingAndGlyphs">The value of the subkey bit should be known.</text>
<circle cx="63" cy="456" r="4.2" fill="#cdd5f0" stroke="#333" stroke-width=".8"/>
<text class="cn" x="63" y="457.8" style="font-size:4.5px">i</text>
<text class="leg" x="73" y="459.5" textLength="267" lengthAdjust="spacingAndGlyphs">The subkey bit equals the <tspan font-style="italic">i</tspan>-th bit of the master key.</text>
<circle cx="358" cy="456" r="4.2" fill="#cc1010" stroke="#333" stroke-width=".8"/>
<text class="cn" x="358" y="457.8" style="font-size:4.5px;fill:#fff">i</text>
<text class="leg" x="371" y="459.5" textLength="239" lengthAdjust="spacingAndGlyphs">The master key bit with the nonzero difference.</text>
</g>
</svg>
